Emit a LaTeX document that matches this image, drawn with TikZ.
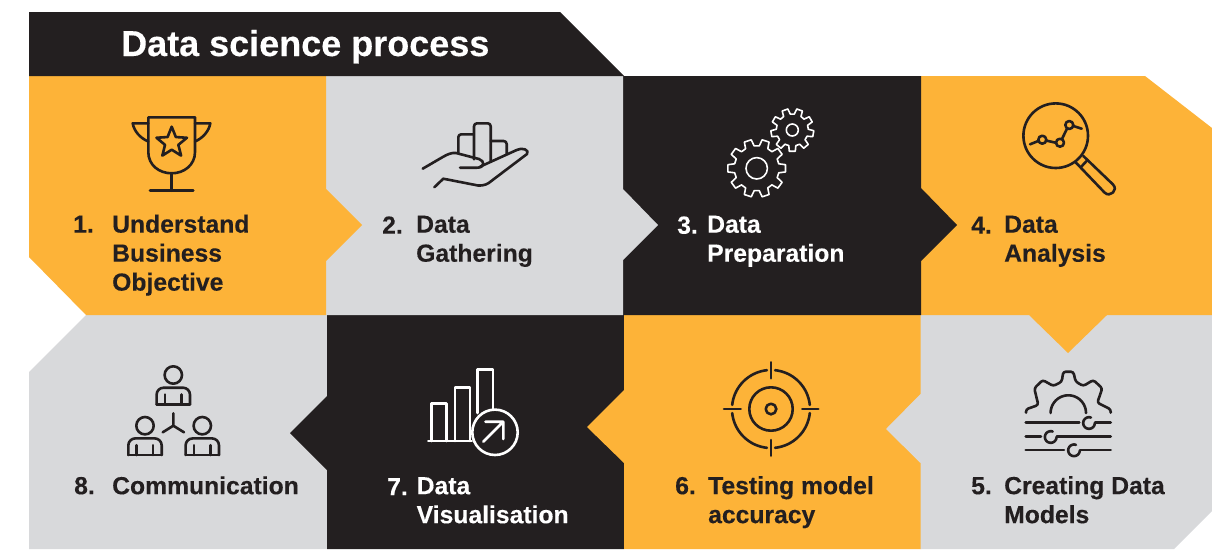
\documentclass[tikz,border=0pt]{standalone}
\usepackage{fontspec}
\setmainfont[BoldFeatures={FakeBold=0.25}]{Liberation Sans}
\definecolor{ink}{HTML}{231F20}
\definecolor{amber}{HTML}{FDB338}
\definecolor{mist}{HTML}{D8D9DB}
\newcommand{\iarc}[5]{plot[domain=#4:#5,samples=30,smooth] ({#1+#3*cos(\x)},{#2+#3*sin(\x)})}
\newcommand{\gearpath}[6]{% cx cy Rout Rin teeth rot
  \pgfmathsetmacro{\st}{360/#5}
  \draw[gearline] ({#1+#4*cos(#6-0.32*\st)},{#2+#4*sin(#6-0.32*\st)})
    \foreach \k in {1,...,#5}{
      -- ({#1+#3*cos(#6+(\k-1)*\st-0.2*\st)},{#2+#3*sin(#6+(\k-1)*\st-0.2*\st)})
      -- ({#1+#3*cos(#6+(\k-1)*\st+0.2*\st)},{#2+#3*sin(#6+(\k-1)*\st+0.2*\st)})
      -- ({#1+#4*cos(#6+(\k-1)*\st+0.32*\st)},{#2+#4*sin(#6+(\k-1)*\st+0.32*\st)})
      -- ({#1+#4*cos(#6+\k*\st-0.32*\st)},{#2+#4*sin(#6+\k*\st-0.32*\st)})
    } -- cycle;}
\newcommand{\person}[2]{% head centre x, head centre y
  \draw[darkicon] (#1,#2) circle[radius=8.7];
  \draw[darkicon,rounded corners=7pt] ({#1-16.7},{#2+29.3}) -- ({#1-16.7},{#2+12.7}) -- ({#1+16.7},{#2+12.7}) -- ({#1+16.7},{#2+29.3});
  \draw[darkicon] ({#1-16.7},{#2+29.3}) -- ({#1+16.7},{#2+29.3});
  \draw[darkicon] ({#1-8.3},{#2+19.5}) -- ({#1-8.3},{#2+29.3}) ({#1+8},{#2+19.5}) -- ({#1+8},{#2+29.3});}
\tikzset{
  x=1pt,y=-1pt,
  darkicon/.style={draw=ink,line width=2.6pt,line cap=round,line join=round},
  lighticon/.style={draw=white,line width=2.6pt,line cap=round,line join=round},
  gearline/.style={draw=white,line width=1.6pt,line join=round},
  numlabel/.style={anchor=north west,inner sep=0pt,font=\fontsize{24.7}{29}\bfseries\selectfont,execute at begin node={\rule{0pt}{18pt}}},
  steplabel/.style={numlabel,align=left},
}
\begin{document}
\begin{tikzpicture}
\useasboundingbox (0,0) rectangle (1212,549);
% panels
\fill[mist] (86,315) -- (327,315) -- (327,549) -- (29,549) -- (29,372) -- cycle;
\fill[ink] (327,315) -- (624,315) -- (624,549) -- (327,549) -- (327,470) -- (290,433) -- (327,396) -- cycle;
\fill[amber] (624,315) -- (921,315) -- (921,549) -- (624,549) -- (624,463) -- (587,427) -- (624,390) -- cycle;
\fill[mist] (920.5,315) -- (1212,315) -- (1212,511) -- (1174,549) -- (920.5,549) -- (920.5,463) -- (886,429) -- (920.5,394) -- cycle;
\fill[amber] (921,76) -- (1145,76) -- (1212,128) -- (1212,315) -- (1107,315) -- (1068,353) -- (1029,315) -- (921,315) -- cycle;
\fill[ink] (623,76) -- (921,76) -- (921,188) -- (957,225) -- (921,261) -- (921,315) -- (623,315) -- cycle;
\fill[mist] (326,76) -- (623,76) -- (623,189) -- (658,225) -- (623,260) -- (623,315) -- (326,315) -- cycle;
\fill[amber] (29,76) -- (326,76) -- (326,189) -- (362,225) -- (326,261) -- (326,315) -- (86,315) -- (29,257) -- cycle;
\fill[ink] (29,12) -- (560,12) -- (624,76) -- (29,76) -- cycle;
% title
\node[anchor=base west,inner sep=0pt,text=white,font=\fontsize{36}{40}\bfseries\selectfont] (title) at (121,56) {Data science process};
% step texts
\node[numlabel,text=ink] (n1) at (73,214.5) {1.};
\node[steplabel,text=ink] (t1) at (112,214.5) {Understand\\Business\\Objective};
\node[numlabel,text=ink] (n2) at (382,215.5) {2.};
\node[steplabel,text=ink] (t2) at (416,215.5) {Data\\Gathering};
\node[numlabel,text=white] (n3) at (677,215.5) {3.};
\node[steplabel,text=white] (t3) at (707,215.5) {Data\\Preparation};
\node[numlabel,text=ink] (n4) at (971,215.5) {4.};
\node[steplabel,text=ink] (t4) at (1004,215.5) {Data\\Analysis};
\node[numlabel,text=ink] (n5) at (971,476) {5.};
\node[steplabel,text=ink] (t5) at (1004,476) {Creating Data\\Models};
\node[numlabel,text=ink] (n6) at (675,476) {6.};
\node[steplabel,text=ink] (t6) at (708,476) {Testing model\\accuracy};
\node[numlabel,text=white] (n7) at (387,477) {7.};
\node[steplabel,text=white] (t7) at (416.5,477) {Data\\Visualisation};
\node[numlabel,text=ink] (n8) at (74,476) {8.};
\node[steplabel,text=ink] (t8) at (112,476) {Communication};
% trophy
\draw[darkicon] (148.3,141) -- (148.3,117.3) -- (195,117.3) -- (195,152) .. controls (195,165) and (184,173.3) .. (171.7,173.3) .. controls (159,173.3) and (148.3,165) .. (148.3,152) -- cycle;
\draw[darkicon] (171.7,173.3) -- (171.7,190.7) (150,190.7) -- (193.3,190.7);
\draw[darkicon] (148.3,123.3) -- (132.7,123.3) .. controls (134,131) and (140,138) .. (148.3,141.5);
\draw[darkicon] (195,123.3) -- (210.3,123.3) .. controls (209,131) and (203,138) .. (195,141.5);
\draw[darkicon] plot[samples at={-90,-54,...,234}] ({171.7+(mod(round((\x+90)/36),2)==0 ? 16 : 7)*cos(\x)},{142.7+(mod(round((\x+90)/36),2)==0 ? 16 : 7)*sin(\x)}) -- cycle;
% hand
\begin{scope}[rounded corners=3pt]
\draw[darkicon] (458.3,152.7) -- (458.3,134.3) -- (473.3,134.3);
\draw[darkicon] (474,159.3) -- (474,123.3) -- (490.7,123.3) -- (490.7,161.7);
\draw[darkicon] (490.7,141) -- (506.7,141) -- (506.7,154);
\end{scope}
\draw[darkicon] (422.7,168.7) -- (443.3,156.7) .. controls (448,154) and (452,152.5) .. (456,153) -- (479,159) .. controls (485,161) and (485,167.7) .. (477,167.7) -- (460,167.7);
\draw[darkicon] (480,166.7) -- (516.7,150) .. controls (522,147) and (530,150) .. (527,154) -- (492,180.5) .. controls (488,184) and (484,186) .. (478,185.5) -- (443.3,178.7) -- (434.3,187.3);
% gears
\gearpath{756.7}{168.3}{29}{22.5}{10}{-72}
\draw[gearline] (756.7,168.3) circle[radius=10.7];
\gearpath{792.3}{130}{21.5}{16}{9}{-70}
\draw[gearline] (792.3,130) circle[radius=6];
% magnifier
\draw[darkicon] (1055.7,135.7) circle[radius=32.3];
\draw[darkicon] (1030,144.3) -- (1038.3,141);
\draw[darkicon] (1042.3,139.7) circle[radius=4];
\draw[darkicon] (1046.7,140.7) -- (1055.7,142.7);
\draw[darkicon] (1060,142.7) circle[radius=4];
\draw[darkicon] (1062.3,138.3) -- (1066.7,129.3);
\draw[darkicon] (1069.3,125) circle[radius=4];
\draw[darkicon] (1073.3,126) -- (1081.7,128.7);
\draw[darkicon] (1076,162.7) -- (1104.5,192.5) .. controls (1110,198) and (1118.5,190) .. (1113,184.5) -- (1083.3,156);
\draw[darkicon] (1081,167) -- (1087.5,160);
% people
\person{173.3}{375}
\person{145}{425.7}
\person{202.3}{425.7}
\draw[darkicon] (173.3,413.3) -- (173.3,425.7) (162.7,432.3) -- (173.3,425.7) -- (184,432.3);
% chart
\draw[lighticon] (428.3,441) -- (471.7,441);
\draw[lighticon] (431.7,441) -- (431.7,403.3) -- (446.7,403.3) -- (446.7,441);
\draw[lighticon] (455,441) -- (455,387.3) -- (470,387.3) -- (470,441);
\draw[lighticon] (477.7,413) -- (477.7,369.3) -- (493,369.3) -- (493,409.5);
\draw[lighticon] (495,432.3) circle[radius=22.7];
\draw[lighticon] (483.3,441.7) -- (503.3,421.7) (485.5,421.7) -- (503.3,421.7) -- (503.3,439);
% target
\draw[darkicon] (771,409) circle[radius=21.7];
\draw[darkicon] (771,409) circle[radius=5.3];
\draw[darkicon] \iarc{771}{409}{39}{-84}{-6};
\draw[darkicon] \iarc{771}{409}{39}{6}{84};
\draw[darkicon] \iarc{771}{409}{39}{96}{174};
\draw[darkicon] \iarc{771}{409}{39}{186}{264};
\draw[darkicon] (771,362.3) -- (771,378.3) (771,440) -- (771,455.7) (724,409) -- (740.7,409) (802.3,409) -- (818.3,409);
% gear with sliders
\draw[darkicon,rounded corners=2.5pt] (1026,412.7) -- (1026,409.3) -- (1038.3,405) -- (1034.3,388.3) -- (1042.7,380) -- (1053.3,386) -- (1061.7,381.7) -- (1063.3,371.7) -- (1073.3,371.7) -- (1075.7,381.7) -- (1083.3,386) -- (1093.3,380) -- (1102.3,388.3) -- (1097.3,402.7) -- (1110.7,409.3) -- (1110.7,412.7);
\draw[darkicon] \iarc{1068.3}{413}{17.7}{-180}{0};
\draw[darkicon] (1025.7,422.7) -- (1079.3,422.7) (1095,422.7) -- (1110.7,422.7);
\draw[darkicon] \iarc{1089}{423}{5.8}{-70}{-355};
\draw[darkicon] (1025.7,436.7) -- (1041,436.7) (1056.7,436.7) -- (1110.7,436.7);
\draw[darkicon] \iarc{1050.7}{437}{5.8}{-70}{-355};
\draw[darkicon] (1025.7,450) -- (1064,450) (1080,450) -- (1110.7,450);
\draw[darkicon] \iarc{1074}{450.3}{5.8}{-70}{-355};
\end{tikzpicture}
\end{document}
